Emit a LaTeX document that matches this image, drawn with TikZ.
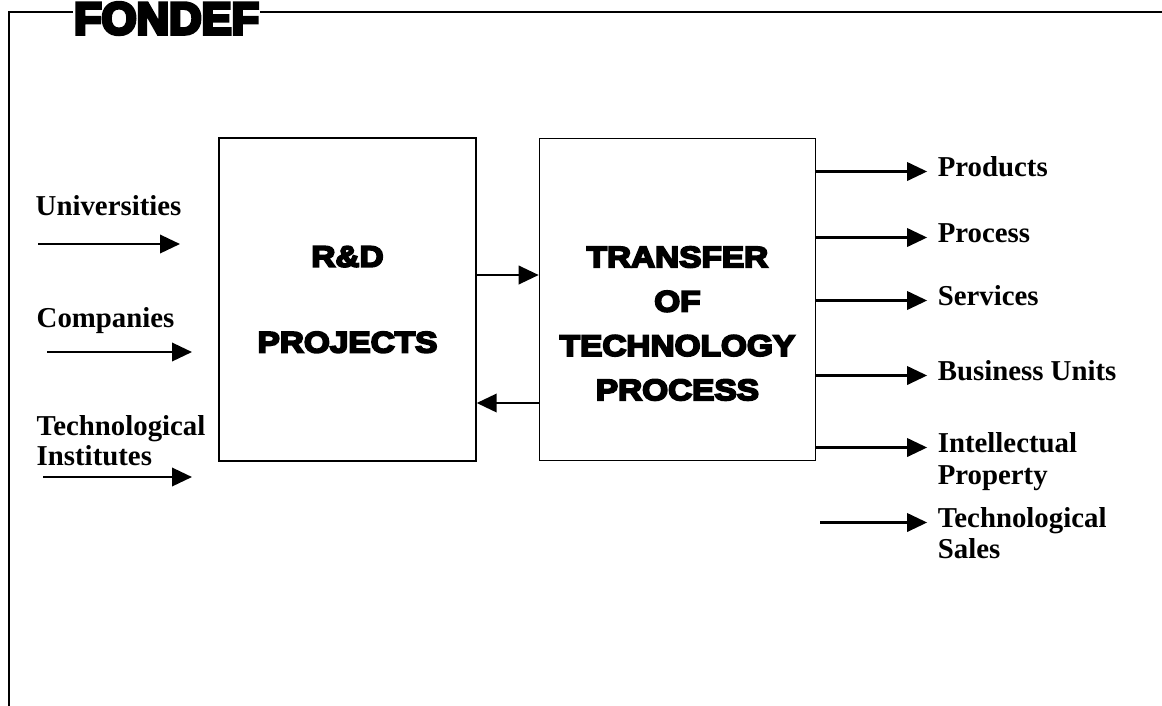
\documentclass[tikz,border=0pt]{standalone}
\usepackage{fontspec}
\setmainfont{Liberation Serif}
\newfontfamily\titlefont[FakeBold=8]{Liberation Sans Bold}
\newfontfamily\blockfont[FakeStretch=1.13,FakeBold=6.5]{Liberation Sans Bold}
\usetikzlibrary{arrows.meta,positioning}

\begin{document}
\begin{tikzpicture}[line width=1pt]
\tikzstyle{block} = [rectangle, draw, line width=1pt, align=center,
    font=\blockfont\fontsize{21}{61}\selectfont]
\tikzstyle{line} = [draw, line width=1.7pt, -{Triangle[length=0.5cm,width=0.46cm]}]
\tikzstyle{lab} = [inner sep=0pt, text height=0.66em, text depth=0pt,
    font=\fontsize{20.5}{24}\selectfont\bfseries]
\tikzstyle{outlab} = [lab, inner xsep=0.25cm]

\useasboundingbox (0,0) rectangle (29.05,-17.625);

% outer frame with the title on its top edge
\draw [line width=1.4pt] (0.225,-17.8) -- (0.225,-0.29) -- (29.2,-0.29);
\node [anchor=base west, fill=white, inner xsep=1pt, inner ysep=2pt,
    font=\titlefont\fontsize{32}{32}\selectfont] (fd) at (1.8,-0.85) {FONDEF};

% the two boxes
\node [block, minimum width=6.425cm, minimum height=8.075cm] (rd) at (8.6875,-7.4875) {R\&D\\PROJECTS};
\node [block, right=1.55cm of rd, minimum width=6.9cm, minimum height=8.05cm] (tt) {};
\node [align=center, font=\blockfont\fontsize{21}{31.5}\selectfont] (ttx)
    at ([yshift=-0.6cm]tt.center) {TRANSFER\\OF\\TECHNOLOGY\\PROCESS};
\path [line] ([yshift=0.6125cm]rd.east) -- ([yshift=0.6125cm]tt.west);
\path [line] ([yshift=-2.5875cm]tt.west) -- ([yshift=-2.5875cm]rd.east);
%
% inputs
\node [lab, anchor=base west] (un) at (0.875,-5.375) {Universities};
\coordinate (un0) at (0.95,-6.1);
\coordinate (un1) at (4.5,-6.1);
\path [line] (un0) -- (un1);
\node [lab, anchor=base west] (co) at (0.9,-8.175) {Companies};
\coordinate (co0) at (1.175,-8.8);
\coordinate (co1) at (4.8,-8.8);
\path [line] (co0) -- (co1);
\node [lab, anchor=base west] (ti1) at (0.9,-10.875) {Technological};
\node [lab, anchor=base west] (ti2) at (0.9,-11.625) {Institutes};
\coordinate (ti0) at (1.075,-11.925);
\coordinate (ti3) at (4.8,-11.925);
\path [line] (ti0) -- (ti3);
%
% outputs
\coordinate (p0) at ([yshift=3.2cm]tt.east);
\coordinate (p1) at ([yshift=1.55cm]tt.east);
\coordinate (p2) at ([yshift=-0.025cm]tt.east);
\coordinate (p3) at ([yshift=-1.9cm]tt.east);
\coordinate (p4) at ([yshift=-3.7cm]tt.east);
\coordinate (p5) at ([yshift=-5.575cm]tt.east);
\coordinate (p5s) at ([xshift=0.1cm]p5);
\node [outlab, right=2.775cm of p0] (pd) {Products};
\node [outlab, right=2.775cm of p1] (pc) {Process};
\node [outlab, right=2.775cm of p2] (sv) {Services};
\node [outlab, right=2.775cm of p3] (bu) {Business Units};
\node [outlab, right=2.775cm of p4] (ip1) {Intellectual};
\node [outlab, below=0.8cm of ip1.west, anchor=west] (ip2) {Property};
\node [outlab, right=2.775cm of p5] (ts1) {Technological};
\node [outlab, below=0.78cm of ts1.west, anchor=west] (ts2) {Sales};
\path [line] (p0) -- (pd);
\path [line] (p1) -- (pc);
\path [line] (p2) -- (sv);
\path [line] (p3) -- (bu);
\path [line] (p4) -- (ip1);
\path [line] (p5s) -- (ts1);

\end{tikzpicture}
\end{document}
